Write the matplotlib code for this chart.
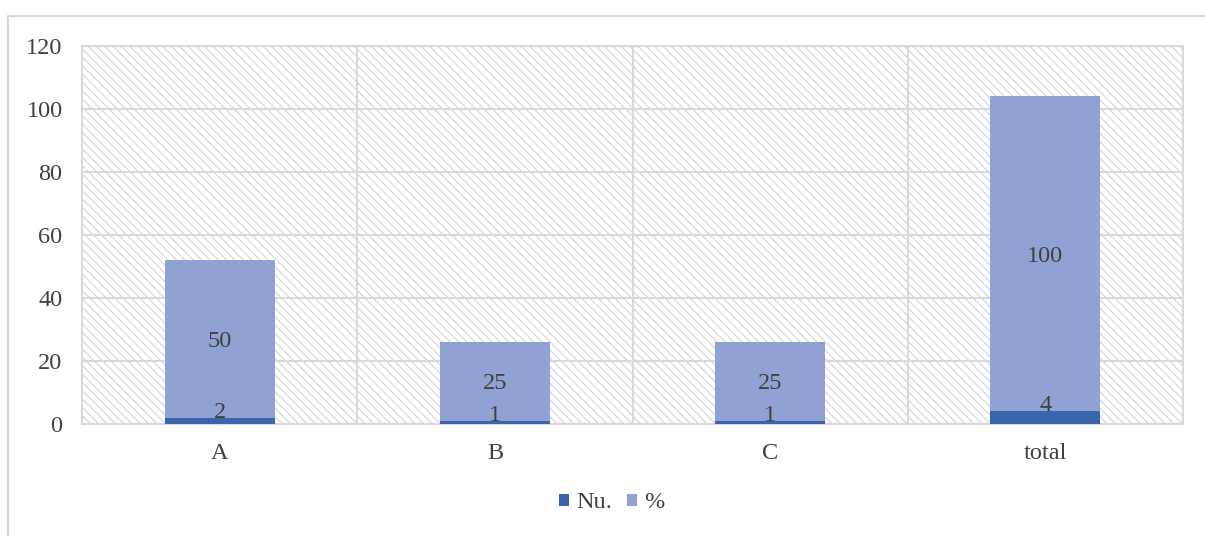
import matplotlib.pyplot as plt
from matplotlib.patches import Rectangle
import numpy as np

# dados
categorias = ['A', 'B', 'C', 'total']
nu = [2, 1, 1, 4]
pct = [50, 25, 25, 100]

cor_nu = '#3C64AE'
cor_pct = '#8FA2D3'
cor_grade = '#D9D9D9'
cor_texto = '#404040'

plt.rcParams['font.family'] = ['Liberation Serif', 'DejaVu Serif']
plt.rcParams['hatch.linewidth'] = 0.8
plt.rcParams['hatch.color'] = '#D4D4D4'

fig = plt.figure(figsize=(12.05, 5.36), dpi=100)
ax = fig.add_axes([82 / 1205, 112 / 536, 1101 / 1205, 378 / 536])

# moldura externa
fig.patches.append(Rectangle((8 / 1205, -0.05), 1.2, 1 - 16 / 536 + 0.05,
                             transform=fig.transFigure, fill=False,
                             edgecolor=cor_grade, linewidth=1.5))

# fundo hachurado
ax.add_patch(Rectangle((0, 0), 1, 1, transform=ax.transAxes, facecolor='white',
                       edgecolor='#D4D4D4', hatch='\\\\\\\\', linewidth=0, zorder=0))

x = np.arange(len(categorias))
largura = 0.4
ax.bar(x, nu, largura, color=cor_nu, label='Nu.', zorder=3)
ax.bar(x, pct, largura, bottom=nu, color=cor_pct, label='%', zorder=3)

fs = 17.5
for i in range(len(categorias)):
    ax.text(x[i], nu[i], str(nu[i]), ha='center', va='baseline',
            fontsize=fs, color=cor_texto, zorder=4)
    ax.text(x[i], nu[i] + pct[i] / 2, str(pct[i]), ha='center', va='center_baseline',
            fontsize=fs, color=cor_texto, zorder=4)

ax.set_xlim(-0.5, len(categorias) - 0.5)
ax.set_ylim(0, 120)
ax.set_yticks(range(0, 121, 20))
ax.set_xticks(x)
ax.set_xticklabels(categorias)
ax.set_xticks(np.arange(-0.5, len(categorias), 1), minor=True)
ax.tick_params(axis='both', which='both', length=0, labelsize=fs, colors=cor_texto)
ax.tick_params(axis='x', pad=14)
ax.tick_params(axis='y', pad=14)
ax.grid(axis='y', which='major', color=cor_grade, linewidth=1.5, zorder=1)
ax.grid(axis='x', which='minor', color=cor_grade, linewidth=1.5, zorder=1)
ax.set_axisbelow(True)
for s in ax.spines.values():
    s.set_color(cor_grade)
    s.set_linewidth(1.5)

fig.legend(loc='center', bbox_to_anchor=(612 / 1205, 1 - 503 / 536), ncol=2,
           frameon=False, fontsize=fs, handlelength=0.42, handleheight=0.42,
           handletextpad=0.3, columnspacing=0.6, labelcolor=cor_texto)

fig.savefig('out.png', dpi=100)
